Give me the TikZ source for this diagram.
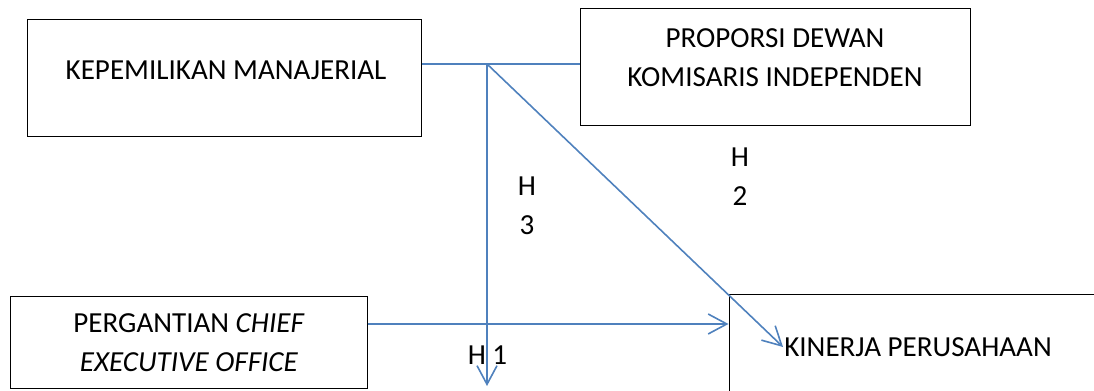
\documentclass[tikz,border=0pt]{standalone}
\usepackage{fontspec}
\setmainfont{Carlito}
\usetikzlibrary{arrows.meta}

\definecolor{linkblue}{RGB}{79,129,189}
\tikzset{
  box/.style={draw, line width=0.75pt, inner sep=0pt},
  link/.style={draw=linkblue, line width=1.2pt},
  tipline/.style={link, -{Straight Barb[length=14pt,width=15pt,line width=1.2pt]}},
  txt/.style={inner sep=0.75pt, font=\fontsize{21.8}{29.25}\selectfont, align=center},
}

\begin{document}
\begin{tikzpicture}[x=0.75pt,y=0.75pt,yscale=-1,xscale=1]
  \path[use as bounding box] (0,0) rectangle (1094,391);
  \clip (0,0) rectangle (1094,391);

  %Shape: Rectangle [km]
  \node (km) [box, minimum width=295.5pt, minimum height=87.75pt] at (224,78.5) {};
  %Shape: Rectangle [pdki]
  \node (pdki) [box, minimum width=292.5pt, minimum height=87.75pt] at (775,67.5) {};
  %Shape: Rectangle [pceo]
  \node (pceo) [box, minimum width=267.75pt, minimum height=69pt] at (188.5,342) {};
  %Shape: Rectangle [kp] (runs off the page)
  \node (kp) [box, minimum width=285pt, minimum height=84pt] at (919,350) {};

  % Text Node
  \node (kmtext) [txt] at (226,70) {KEPEMILIKAN MANAJERIAL};
  % Text Node
  \node (pdkitext) [txt] at (775,57.5) {PROPORSI DEWAN\\KOMISARIS INDEPENDEN};
  % Text Node
  \node (pceotext) [txt] at (189,343) {PERGANTIAN \textit{CHIEF}\\\textit{EXECUTIVE OFFICE}};
  % Text Node
  \node (kptext) [txt] at (918,347) {KINERJA PERUSAHAAN};
  % Text Node
  \node (hthree) [txt] at (527,206) {H\\3};
  % Text Node
  \node (htwo) [txt] at (740,177) {H\\2};
  % Text Node
  \node (hone) [txt] at (487.5,355) {H 1};

  \coordinate (junc) at (487,64);
  \coordinate (h1end) at (487,386);

  %Straight Lines
  \draw [link] (km.east |- junc) -- (pdki.west |- junc);
  \draw [tipline] (junc) -- (h1end);
  \draw [tipline] (junc) -- (kptext.west);
  \draw [tipline] (pceo.east |- 0,324) -- (kp.west |- 0,324);

\end{tikzpicture}
\end{document}
